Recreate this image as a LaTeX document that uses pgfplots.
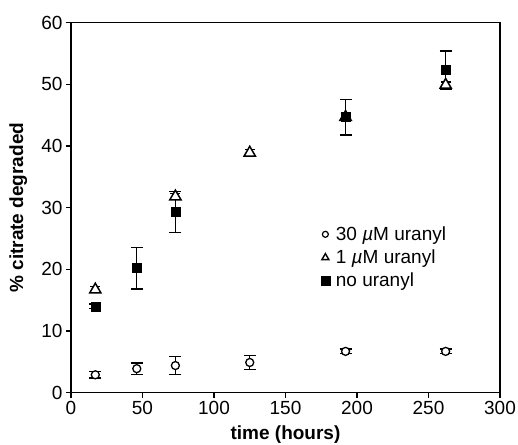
\documentclass[border=0pt]{standalone}
\usepackage{pgfplots}
\pgfplotsset{compat=1.18}
\usepackage{fontspec}
\setmainfont{Liberation Sans}
\begin{document}
\begin{tikzpicture}
\begin{axis}[
  scale only axis, width=429pt, height=370pt,
  xmin=0, xmax=300, ymin=0, ymax=60,
  xtick={0,50,...,300}, ytick={0,10,...,60},
  tick align=outside, xtick pos=bottom, ytick pos=left,
  major tick length=5pt,
  axis line style={line width=1.2pt}, every tick/.style={line width=1.2pt, black},
  font=\fontsize{19}{22}\selectfont,
  /pgf/number format/assume math mode=true,
  xlabel={\textbf{time (hours)}},
  ylabel={\textbf{\% citrate degraded}},
  xlabel style={at={(axis description cs:0.5,-0.112)}, anchor=center},
  ylabel style={at={(axis description cs:-0.123,0.5)}, anchor=center},
  legend style={at={(rel axis cs:0.575,0.46)}, anchor=north west, draw=none, fill=none,
    font=\fontsize{19}{22}\selectfont, row sep=4pt, column sep=4pt},
  legend cell align=left,
]
\addlegendimage{only marks, mark=o, mark size=3pt, line width=1.2pt}
\addlegendimage{only marks, mark=triangle*, mark options={fill=white}, mark size=4pt, line width=1.4pt}
\addlegendimage{only marks, mark=square*, mark size=4.5pt}
\legend{30 \textit{µ}M uranyl, 1 \textit{µ}M uranyl, no uranyl}

% 30 uM uranyl
\addplot[only marks, mark=*, mark size=4pt, mark options={fill=white, line width=1.3pt},
  error bars/.cd, y dir=both, y explicit,
  error bar style={line width=1.3pt},
  error mark options={rotate=90, mark size=6pt, line width=1.3pt}]
table[x=t, y=v, y error=e]{
t v e
17 2.9 0.5
46 3.9 0.9
73 4.4 1.5
125 4.9 1.1
192 6.7 0.4
262 6.7 0.4
};
% 1 uM uranyl
\addplot[only marks, mark=triangle*, mark size=6.5pt, mark options={fill=white, line width=1.5pt},
  error bars/.cd, y dir=both, y explicit,
  error bar style={line width=1.3pt},
  error mark options={rotate=90, mark size=5pt, line width=1.3pt}]
table[x=t, y=v, y error=e]{
t v e
17 16.7 0.5
73 31.8 0.5
125 38.9 0.5
192 44.7 0.5
262 49.9 0.5
};
% no uranyl
\addplot[only marks, mark=square*, mark size=4.5pt, mark options={fill=black},
  error bars/.cd, y dir=both, y explicit,
  error bar style={line width=1.3pt},
  error mark options={rotate=90, mark size=6pt, line width=1.3pt}]
table[x=t, y=v, y error=e]{
t v e
17 14.0 0.4
46 20.2 3.4
73 29.3 3.3
192 44.7 2.9
262 52.3 3.1
};
\end{axis}
\pgfresetboundingbox
\path ([xshift=-71pt,yshift=-52pt]current axis.south west) rectangle ([xshift=18pt,yshift=22.7pt]current axis.north east);
\end{tikzpicture}
\end{document}
